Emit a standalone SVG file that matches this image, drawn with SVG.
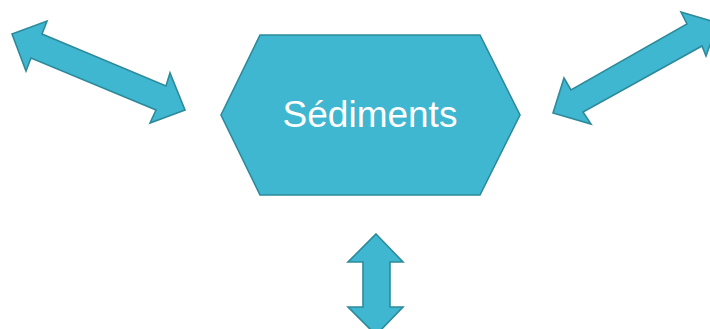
<svg xmlns="http://www.w3.org/2000/svg" width="710" height="329" viewBox="0 0 710 329">
<style>
.shape{fill:#40B7D0;stroke:#2D8A9B;stroke-width:1.6;stroke-linejoin:miter}
.label{font-family:"Liberation Sans",Arial,sans-serif;font-size:37px;fill:#ffffff;text-anchor:middle}
</style>
<rect width="710" height="329" fill="#ffffff"/>
<g id="sediments">
<polygon class="shape" points="260,35 480,35 520,115 480,195 260,195 221,115"/>
<text class="label" x="370" y="127">Sédiments</text>
</g>
<g id="connectors">
<polygon class="shape" points="12,34 47,21 42,34 166,86 170,73 185,110 150,123 156,110 31,58 26,71"/>
<polygon class="shape" points="553,113 564,78 571,90 687,24 681,12 718,23 706,56 702,46 583,112 591,124"/>
<polygon class="shape" points="376,234 403,262 390,262 390,307 403,307 376,335 348,307 363,307 363,262 348,262"/>
</g>
</svg>
